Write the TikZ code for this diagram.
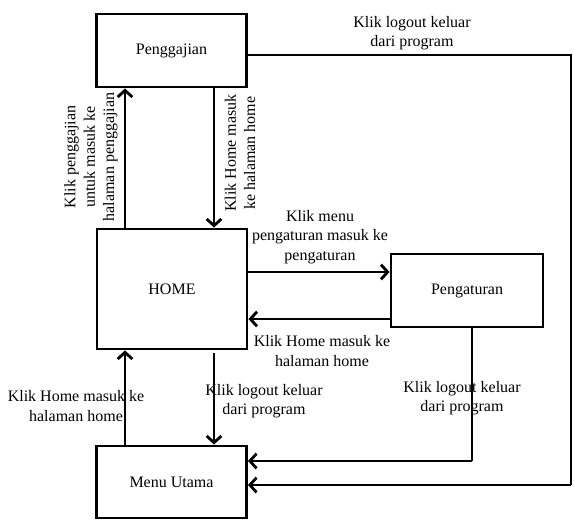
\documentclass[tikz,border=0pt]{standalone}
\usepackage{fontspec}
\setmainfont{Liberation Serif}
\usetikzlibrary{arrows.meta}
\begin{document}
\begin{tikzpicture}[x=0.75pt,y=-0.75pt,
  box/.style={draw,line width=2.2pt,rectangle,minimum width=112.5pt,inner sep=0pt,font=\fontsize{12}{14}\selectfont},
  arr/.style={line width=2.1pt,-{Straight Barb[length=5pt,width=11pt]}},
  conn/.style={line width=2.1pt},
  lbl/.style={align=center,inner sep=0pt,font=\fontsize{12}{14.5}\selectfont}]
\useasboundingbox (0,0) rectangle (574,524);
\node[box,minimum height=54.75pt] (pg) at (171.5,50.5) {Penggajian};
\node[box,minimum height=90pt] (home) at (172,289) {HOME};
\node[box,minimum height=54pt] (mu) at (171.5,482) {Menu Utama};
\node[box,minimum width=114pt,minimum height=54.75pt] (pt) at (467,290.5) {Pengaturan};
\coordinate (xa) at (125,0);
\coordinate (xb) at (214,0);
\coordinate (xc) at (472,0);
\coordinate (xd) at (571,0);
\coordinate (ya) at (0,272);
\coordinate (yb) at (0,319);
\coordinate (yc) at (0,461);
\coordinate (yd) at (0,485);
\coordinate (ye) at (0,55);
\coordinate (ys) at (0,353);
% Home <-> Penggajian
\draw[arr] (home.north -| xa) -- (pg.south -| xa);
\draw[arr] (pg.south -| xb) -- (home.north -| xb);
% Home <-> Pengaturan
\draw[arr] (home.east |- ya) -- (pt.west |- ya);
\draw[arr] (pt.west |- yb) -- (home.east |- yb);
% Home <-> Menu Utama
\draw[arr] (mu.north -| xa) -- (home.south -| xa);
\draw[arr] (ys -| xb) -- (mu.north -| xb);
% Pengaturan -> Menu Utama
\draw[conn] (pt.south -| xc) -- (yc -| xc);
\draw[arr] (yc -| xc) -- (mu.east |- yc);
% Penggajian -> Menu Utama
\draw[conn] (pg.east |- ye) -- (xd |- ye) -- (xd |- yd);
\draw[arr] (xd |- yd) -- (mu.east |- yd);
% labels
\node[lbl] (l1) at (412,33) {Klik logout keluar\\dari program};
\node[lbl,rotate=90] (l2) at (91,157) {Klik penggajian\\untuk masuk ke\\halaman penggajian};
\node[lbl,rotate=90] (l3) at (240,153) {Klik Home masuk\\ke halaman home};
\node[lbl] (l4) at (320,237) {Klik menu\\pengaturan masuk ke\\pengaturan};
\node[lbl] (l5) at (322,351) {Klik Home masuk ke\\halaman home};
\node[lbl] (l6) at (264,401) {Klik logout keluar\\dari program};
\node[lbl] (l7) at (462,398) {Klik logout keluar\\dari program};
\node[lbl] (l8) at (76,406) {Klik Home masuk ke\\halaman home};
\end{tikzpicture}
\end{document}
